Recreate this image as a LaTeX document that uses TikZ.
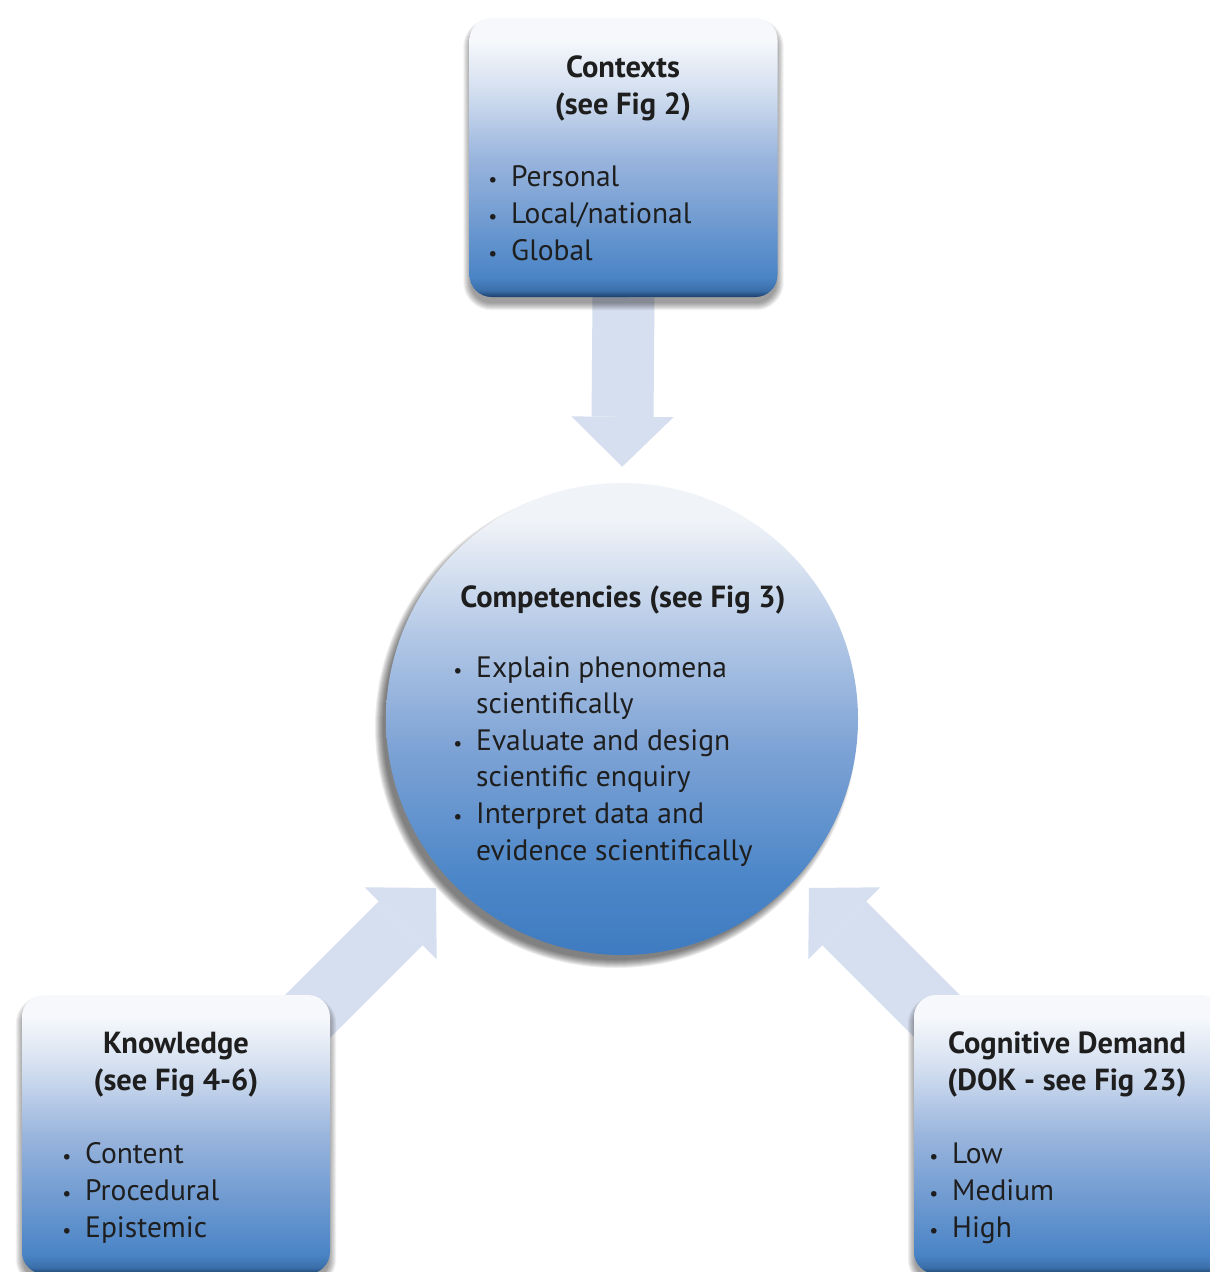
\documentclass[tikz,border=0pt]{standalone}
\usepackage{fontspec}
\setmainfont{PT Sans}
\usetikzlibrary{arrows.meta,calc}
\definecolor{arrowcol}{HTML}{D6DFEF}
\definecolor{txt}{HTML}{1E1E1E}
\definecolor{sA}{HTML}{1C3F6A}
\definecolor{sB}{HTML}{3B6FAA}
\definecolor{sC}{HTML}{4A84C6}
\definecolor{sD}{HTML}{9AB5DD}
\definecolor{sE}{HTML}{D3DFF0}
\definecolor{sF}{HTML}{F6F8FB}
\definecolor{cA}{HTML}{3F7BC0}
\definecolor{cB}{HTML}{4B86C8}
\definecolor{cC}{HTML}{7EA3D5}
\definecolor{cD}{HTML}{B3C8E6}
\definecolor{cE}{HTML}{F0F3F8}
\pgfdeclareverticalshading{boxshade}{100bp}{color(0bp)=(sA); color(25bp)=(sA); color(26.2bp)=(sB); color(28.5bp)=(sC); color(50bp)=(sD); color(62bp)=(sE); color(71bp)=(sF); color(100bp)=(sF)}
\pgfdeclareverticalshading{ballshade}{100bp}{color(0bp)=(cA); color(25bp)=(cA); color(33bp)=(cB); color(47bp)=(cC); color(59bp)=(cD); color(71bp)=(cE); color(100bp)=(cE)}
\pgfdeclarelayer{paper}
\pgfdeclarelayer{back}
\pgfdeclarelayer{shade}
\pgfsetlayers{paper,back,shade,main}
\newcommand\myitem[4]{%
  \node[itemtext, anchor=base west] (#1) at (#2+18,#3) {#4};
  \node[itemtext, anchor=base] (#1b) at (#2,#3) {\fontsize{20}{20}\selectfont •};}
\newcommand\panelshadow[1]{%
  \foreach \s in {1,...,8}{%
    \fill[black, fill opacity=0.055, rounded corners=20pt+\s pt]
      ($(#1.north west)+(-\s+2,-\s+2+7)$) rectangle ($(#1.south east)+(\s-2,\s-2+7)$);}}
\newcommand\ballshadow[1]{%
  \foreach \s in {1,...,9}{%
    \fill[black, fill opacity=0.07] ($(#1.center)+(-6,8)$) circle[radius=232pt+\s pt];}}
\begin{document}
\begin{tikzpicture}[x=1pt,y=-1pt,
  panel/.style={rectangle, rounded corners=22pt, minimum width=308pt, minimum height=279pt, shading=boxshade, inner sep=0pt},
  ball/.style={circle, minimum size=472pt, inner sep=0pt, shading=ballshade},
  blockarrow/.style={draw=arrowcol, line width=62pt, -{Triangle[width=102pt,length=50pt,line width=0pt]}},
  titletext/.style={font=\fontsize{30.5}{37}\selectfont\bfseries, text=txt, inner sep=0pt},
  itemtext/.style={font=\fontsize{29.5}{37}\selectfont, text=txt, inner sep=0pt}]
\useasboundingbox (0,0) rectangle (1210,1272);
\clip (0,0) rectangle (1210,1272);
\begin{pgfonlayer}{paper}
\fill[white] (0,0) rectangle (1210,1272);
\end{pgfonlayer}

\node[panel] (ctx) at (623.5,157.5) {};
\node[panel] (know) at (176,1134.5) {};
\node[panel] (cog) at (1068,1134.5) {};
\node[ball] (comp) at (622,719) {};

\begin{pgfonlayer}{shade}
\panelshadow{ctx}
\panelshadow{know}
\panelshadow{cog}
\ballshadow{comp}
\end{pgfonlayer}

\coordinate (kt) at (436,888);
\coordinate (ks) at (216,1108);
\coordinate (gt) at (809,888);
\coordinate (gs) at (1029,1108);
\begin{pgfonlayer}{back}
\draw[blockarrow, shorten >=16pt] (ctx.south) -- (comp.north);
\draw[blockarrow] (ks) -- (kt);
\draw[blockarrow] (gs) -- (gt);
\end{pgfonlayer}

% Contexts
\node[titletext, anchor=base] (ctxt1) at (623,77) {Contexts};
\node[titletext, anchor=base] (ctxt2) at (623,114) {(see Fig 2)};
\myitem{ctxa}{493}{186}{Personal}
\myitem{ctxb}{493}{223}{Local/national}
\myitem{ctxc}{493}{260}{Global}

% Competencies
\node[titletext, anchor=base] (compt) at (623,607) {Competencies (see Fig 3)};
\myitem{compa}{458}{677}{Explain phenomena}
\node[itemtext, anchor=base west] (compa2) at (476,713) {scientifically};
\myitem{compb}{458}{750}{Evaluate and design}
\node[itemtext, anchor=base west] (compb2) at (476,786) {scientific enquiry};
\myitem{compc}{458}{823}{Interpret data and}
\node[itemtext, anchor=base west] (compc2) at (476,860) {evidence scientifically};

% Knowledge
\node[titletext, anchor=base] (knowt1) at (176,1053) {Knowledge};
\node[titletext, anchor=base] (knowt2) at (176,1090) {(see Fig 4-6)};
\myitem{knowa}{67}{1163}{Content}
\myitem{knowb}{67}{1200}{Procedural}
\myitem{knowc}{67}{1237}{Epistemic}

% Cognitive demand
\node[titletext, anchor=base] (cogt1) at (1067,1053) {Cognitive Demand};
\node[titletext, anchor=base] (cogt2) at (1067,1090) {(DOK - see Fig 23)};
\myitem{coga}{934}{1163}{Low}
\myitem{cogb}{934}{1200}{Medium}
\myitem{cogc}{934}{1237}{High}
\end{tikzpicture}
\end{document}
